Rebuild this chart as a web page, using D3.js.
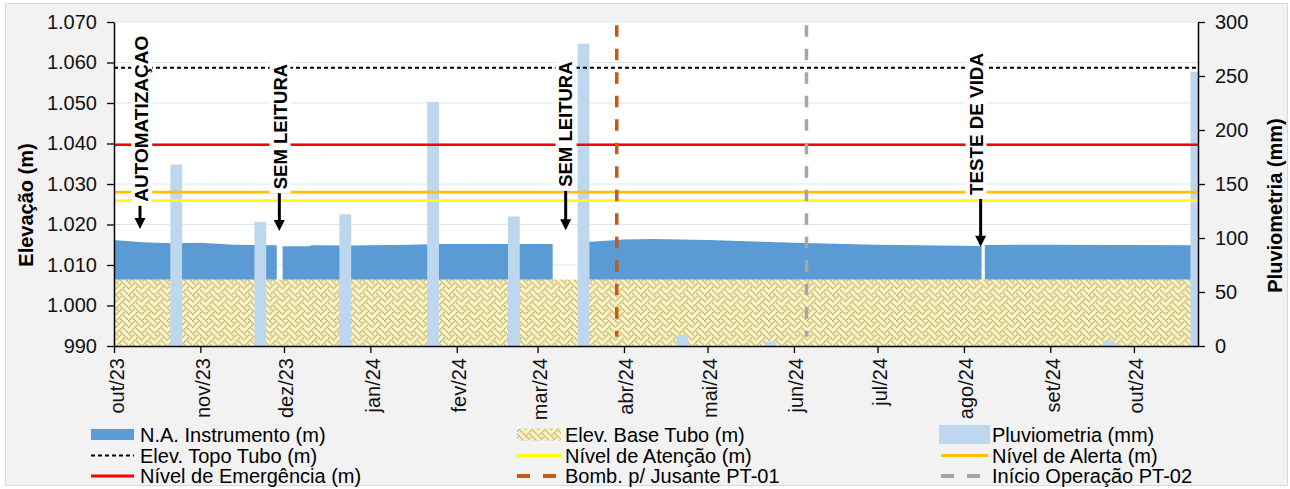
<!DOCTYPE html>
<html><head><meta charset="utf-8">
<script src="https://cdn.jsdelivr.net/npm/d3@7"></script>
<style>
html,body{margin:0;padding:0;background:#fff;}
svg{display:block;font-family:"Liberation Sans",Arial,sans-serif;}
</style></head><body>
<svg id="chart" width="1290" height="489"></svg>
<script>
// ---------------- DATA ----------------
const naDates = ['2023-10-01','2023-10-11','2023-10-22','2023-11-01','2023-11-13','2023-11-28T10:00',
  '2023-11-29','2023-11-30T12:00','2023-12-10','2023-12-11','2023-12-25','2024-01-15','2024-01-25',
  '2024-03-06T10:00','2024-03-10','2024-03-19','2024-04-01','2024-04-12','2024-05-01','2024-06-01',
  '2024-07-01','2024-08-07T08:00','2024-08-07T20:00','2024-08-08T12:00','2024-09-01','2024-10-21T12:00'];
const naValues = [1016.2,1015.6,1015.4,1015.5,1015.0,1014.9,
  null,1014.6,1014.6,1014.9,1014.8,1015.0,1015.2,
  1015.2,null,1015.7,1016.3,1016.4,1016.2,1015.5,
  1015.0,1014.7,null,1014.95,1015.0,1014.9];
const baseDates = ['2023-10-01','2024-10-21T12:00'];
const baseValues = [1006.4,1006.4];
const rainDates = ['2023-10-23T08:00','2023-11-22T12:00','2023-12-23','2024-01-23T12:00','2024-02-21T12:00',
  '2024-03-17T12:00','2024-04-22','2024-05-23T12:00','2024-09-22','2024-10-23T10:00'];
const rainValues = [168,115,122,226,120,280,10,4,5,254];
const topoTubo = 1058.7;
const nivelEmergencia = 1039.7;
const nivelAlerta = 1028.0;
const nivelAtencao = 1025.9;
const eventDates = ['2024-03-29T10:00','2024-06-05T12:00'];
const monthTicks = ['2023-10-01','2023-11-01','2023-12-01','2024-01-01','2024-02-01','2024-03-01',
  '2024-04-01','2024-05-01','2024-06-01','2024-07-01','2024-08-01','2024-09-01','2024-10-01'];
const monthLabels = ['out/23','nov/23','dez/23','jan/24','fev/24','mar/24','abr/24','mai/24',
  'jun/24','jul/24','ago/24','set/24','out/24'];
const leftTicks = [990,1000,1010,1020,1030,1040,1050,1060,1070];
const leftTickLabels = ['990','1.000','1.010','1.020','1.030','1.040','1.050','1.060','1.070'];
const rightTicks = [0,50,100,150,200,250,300];
const annoLabels = ['AUTOMATIZAÇAO','SEM LEITURA','SEM LEITURA','TESTE DE VIDA'];
const annoArrowDates = ['2023-10-10T08:00','2023-11-29T08:00','2024-03-11T02:00','2024-08-07'];
const annoTextDates = ['2023-10-10T23:00','2023-11-29T14:00','2024-03-11T05:00','2024-08-05T08:00'];
const annoTipValues = [1018.9,1018.4,1018.6,1014.5];
const annoStartValues = [1025.6,1028.7,1029.3,1027.3];
const legendNames = ['N.A. Instrumento (m)','Elev. Base Tubo (m)','Pluviometria (mm)',
  'Elev. Topo Tubo (m)','Nível de Atenção (m)','Nível de Alerta (m)',
  'Nível de Emergência (m)','Bomb. p/ Jusante PT-01','Início Operação PT-02'];

// ---------------- SETUP ----------------
const parse = s => new Date(s.length === 10 ? s + 'T00:00' : s);
const svg = d3.select('#chart');
const W = 1290, H = 489;
const plot = {l:114, r:1198, t:22, b:346};
const C = {na:'#5b9bd5', rain:'#bdd7ee', red:'#ff0000', alerta:'#ffc000', atencao:'#ffff00',
  bomb:'#c55a11', inicio:'#a6a6a6', grid:'#dce6f1'};

const x = d3.scaleTime().domain([parse('2023-10-01'), parse('2024-10-24')]).range([plot.l, plot.r]);
const y = d3.scaleLinear().domain([990,1070]).range([plot.b, plot.t]);
const y2 = d3.scaleLinear().domain([0,300]).range([plot.b, plot.t]);

// frame
svg.append('rect').attr('x',0).attr('y',0).attr('width',W).attr('height',H).attr('fill','#ffffff');
svg.append('rect').attr('x',5.5).attr('y',3.5).attr('width',1282).attr('height',482)
  .attr('fill','#f2f2f2').attr('stroke','#d9d9d9').attr('stroke-width',1);
svg.append('rect').attr('x',plot.l).attr('y',plot.t).attr('width',plot.r-plot.l).attr('height',plot.b-plot.t)
  .attr('fill','#ffffff');

// defs: weave pattern + clip
const defs = svg.append('defs');
const s = 1.6;
const weaveRows = [0x88,0x54,0x22,0x45,0x88,0x14,0x22,0x51];
const pat = defs.append('pattern').attr('id','weave').attr('patternUnits','userSpaceOnUse')
  .attr('width',8*s).attr('height',8*s);
pat.append('rect').attr('width',8*s).attr('height',8*s).attr('fill','#fff7c6');
weaveRows.forEach((row,ri)=>{
  for(let b=0;b<8;b++){
    if(row & (0x80>>b)){
      pat.append('rect').attr('x',b*s).attr('y',ri*s).attr('width',s).attr('height',s).attr('fill','#b9ab72');
    }
  }
});
defs.append('clipPath').attr('id','clip').append('rect')
  .attr('x',plot.l).attr('y',plot.t).attr('width',plot.r-plot.l).attr('height',plot.b-plot.t);

// gridlines
svg.append('g').selectAll('line').data(leftTicks.slice(1)).join('line')
  .attr('x1',plot.l).attr('x2',plot.r).attr('y1',d=>y(d)).attr('y2',d=>y(d))
  .attr('stroke',C.grid).attr('stroke-width',1.2);

const g = svg.append('g').attr('clip-path','url(#clip)');

// N.A. area
const naData = naDates.map((d,i)=>({date:parse(d), v:naValues[i]}));
g.append('path').datum(naData)
  .attr('d', d3.area().defined(d=>d.v!=null).x(d=>x(d.date)).y0(y(990)).y1(d=>y(d.v)))
  .attr('fill',C.na);

// Base tubo area
const baseData = baseDates.map((d,i)=>({date:parse(d), v:baseValues[i]}));
g.append('path').datum(baseData)
  .attr('d', d3.area().x(d=>x(d.date)).y0(y(990)).y1(d=>y(d.v)))
  .attr('fill','url(#weave)');

// Rain bars
const barW = 11.8;
g.selectAll('rect.rain').data(rainDates.map((d,i)=>({date:parse(d), v:rainValues[i]}))).join('rect')
  .attr('class','rain')
  .attr('x',d=>x(d.date)-barW/2).attr('width',barW)
  .attr('y',d=>y2(d.v)).attr('height',d=>y2(0)-y2(d.v))
  .attr('fill',C.rain);

// horizontal reference lines
const hlines = [
  {v:topoTubo, c:'#000', w:2, dash:'4,3'},
  {v:nivelEmergencia, c:C.red, w:2.6, dash:null},
  {v:nivelAlerta, c:C.alerta, w:2.6, dash:null},
  {v:nivelAtencao, c:C.atencao, w:2.6, dash:null}
];
g.selectAll('line.h').data(hlines).join('line').attr('class','h')
  .attr('x1',plot.l).attr('x2',plot.r).attr('y1',d=>y(d.v)).attr('y2',d=>y(d.v))
  .attr('stroke',d=>d.c).attr('stroke-width',d=>d.w).attr('stroke-dasharray',d=>d.dash);

// vertical event lines
const evColors = [C.bomb, C.inicio];
g.selectAll('line.v').data(eventDates.map(parse)).join('line').attr('class','v')
  .attr('x1',d=>x(d)).attr('x2',d=>x(d))
  .attr('y1',y(1069.2)).attr('y2',y(992.3))
  .attr('stroke',(d,i)=>evColors[i]).attr('stroke-width',3.5).attr('stroke-dasharray','11.5,12');

// annotations
const annoFont = [19,18.5,18.5,18.8];
const ag = svg.append('g');
annoLabels.forEach((lab,i)=>{
  const tx = x(parse(annoTextDates[i]));
  const ax = x(parse(annoArrowDates[i]));
  const ys = y(annoStartValues[i]);
  const tip = y(annoTipValues[i]);
  const t = ag.append('text').attr('transform',`translate(${tx},${ys}) rotate(-90)`)
    .attr('text-anchor','start').attr('dy','0.35em')
    .attr('font-size',annoFont[i]).attr('font-weight','bold').attr('fill','#000').text(lab);
  const len = t.node().getComputedTextLength();
  ag.insert('rect', 'text').attr('x',tx-10.5).attr('y',ys-len-3).attr('width',21).attr('height',len+7)
    .attr('fill','#fff');
  const boxBottom = ys+4;
  ag.append('line').attr('x1',ax).attr('x2',ax).attr('y1',boxBottom).attr('y2',tip-9)
    .attr('stroke','#000').attr('stroke-width',3);
  ag.append('path').attr('d',`M${ax-5.5},${tip-11}L${ax+5.5},${tip-11}L${ax},${tip}Z`).attr('fill','#000');
});

// axes
const axL = svg.append('g').attr('transform',`translate(${plot.l},0)`)
  .call(d3.axisLeft(y).tickValues(leftTicks).tickFormat((d,i)=>leftTickLabels[i]).tickSize(7).tickSizeOuter(0).tickPadding(10));
const axR = svg.append('g').attr('transform',`translate(${plot.r},0)`)
  .call(d3.axisRight(y2).tickValues(rightTicks).tickFormat(d=>d).tickSize(7).tickSizeOuter(0).tickPadding(10));
const axB = svg.append('g').attr('transform',`translate(0,${plot.b})`)
  .call(d3.axisBottom(x).tickValues(monthTicks.map(parse)).tickFormat((d,i)=>monthLabels[i]).tickSize(7).tickSizeOuter(0));
[axL,axR,axB].forEach(a=>{
  a.select('.domain').attr('stroke','#000').attr('stroke-width',1.5);
  a.selectAll('.tick line').attr('stroke','#000').attr('stroke-width',1.3);
  a.selectAll('.tick text').attr('font-size',20).attr('fill','#111')
    .attr('font-family','"Liberation Sans",Arial,sans-serif');
});
axB.selectAll('.tick text').attr('transform','rotate(-90)').attr('text-anchor','end')
  .attr('x',-12).attr('y',2).attr('dy','0.35em');

// axis titles
svg.append('text').attr('transform','translate(26,205) rotate(-90)').attr('text-anchor','middle')
  .attr('dy','0.35em').attr('font-size',20).attr('font-weight','bold').attr('fill','#000').text('Elevação (m)');
svg.append('text').attr('transform','translate(1275,205.5) rotate(-90)').attr('text-anchor','middle')
  .attr('dy','0.35em').attr('font-size',20).attr('font-weight','bold').attr('fill','#000').text('Pluviometria (mm)');

// legend
const lg = svg.append('g');
const colX = [{s:91,e:134,t:140},{s:517,e:561,t:565},{s:941,e:988,t:992}];
const rowY = [434.5,455.5,476];
const sw = [
  {type:'rect', fill:C.na, h:11},
  {type:'rect', fill:'url(#weave)', h:12},
  {type:'rect', fill:C.rain, h:19, wide:true},
  {type:'line', c:'#000', w:2, dash:'4,3'},
  {type:'line', c:C.atencao, w:3, dash:null},
  {type:'line', c:C.alerta, w:3, dash:null},
  {type:'line', c:C.red, w:3, dash:null},
  {type:'line', c:C.bomb, w:4, dash:'13,13'},
  {type:'line', c:C.inicio, w:4, dash:'13,13'}
];
legendNames.forEach((name,i)=>{
  const col = colX[i%3], yy = rowY[Math.floor(i/3)], st = sw[i];
  if(st.type==='rect'){
    const x0 = st.wide ? col.s-2 : col.s, x1 = st.wide ? col.e+2 : col.e;
    lg.append('rect').attr('x',x0).attr('y',yy-st.h/2).attr('width',x1-x0).attr('height',st.h).attr('fill',st.fill);
  } else {
    lg.append('line').attr('x1',col.s).attr('x2',col.e).attr('y1',yy).attr('y2',yy)
      .attr('stroke',st.c).attr('stroke-width',st.w).attr('stroke-dasharray',st.dash);
  }
  lg.append('text').attr('x',col.t).attr('y',yy).attr('dy','0.35em').attr('font-size',20)
    .attr('fill','#000').text(name);
});
</script>
</body></html>
